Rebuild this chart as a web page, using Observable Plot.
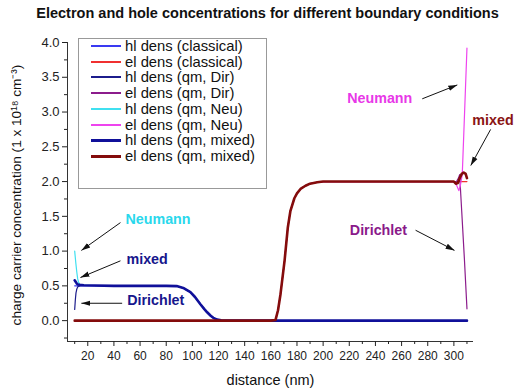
<!DOCTYPE html>
<html><head><meta charset="utf-8">
<script src="https://cdn.jsdelivr.net/npm/d3@7"></script>
<script src="https://cdn.jsdelivr.net/npm/@observablehq/plot@0.6"></script>
<style>
body{margin:0;background:#fff;font-family:"Liberation Sans",Arial,sans-serif;}
#wrap{position:relative;width:521px;height:391px;overflow:hidden;}
#title{height:26px;line-height:26px;font-size:14.5px;font-weight:bold;text-align:center;padding-left:14px;box-sizing:border-box;width:521px;color:#111;}
#legend{position:absolute;left:78px;top:38px;width:189px;height:151px;box-sizing:border-box;border:1px solid #999;background:#fff;}
.row{position:absolute;left:0;height:14px;display:flex;align-items:center;}
.sw{display:inline-block;width:30px;margin-left:12px;margin-right:4px;}
.lab{font-size:14.8px;line-height:14px;color:#111;white-space:nowrap;}
</style></head>
<body><div id="wrap"><div id="title">Electron and hole concentrations for different boundary conditions</div><div id="chart"></div><div id="legend"></div></div>
<script>
// ---- data (distance in nm, concentration in 1e18 cm^-3) ----
const hlClassicalX = [10, 40, 60, 80, 88, 93, 98.5, 102, 106, 109, 111.3, 114, 116, 119, 122, 126, 200, 310];
const hlClassicalY = [0.5, 0.5, 0.5, 0.5, 0.497, 0.47, 0.41, 0.34, 0.24, 0.17, 0.12, 0.07, 0.04, 0.015, 0.005, 0, 0, 0];

const elClassicalX = [10, 100, 160, 163.6, 165.5, 167.4, 170.5, 173, 175, 178, 180, 183, 186.5, 190, 195.5, 200, 250, 310];
const elClassicalY = [0, 0, 0, 0.01, 0.15, 0.38, 0.86, 1.34, 1.58, 1.76, 1.83, 1.9, 1.94, 1.97, 1.99, 2.0, 2.0, 2.0];

const hlDirX = [10, 10.5, 11, 11.7, 12.5, 14, 17, 25, 40, 60, 80, 88, 93, 98.5, 102, 106, 109, 111.3, 114, 116, 119, 122, 126, 200, 310];
const hlDirY = [0.16, 0.3, 0.4, 0.46, 0.49, 0.5, 0.505, 0.505, 0.5, 0.5, 0.5, 0.497, 0.47, 0.41, 0.34, 0.24, 0.17, 0.12, 0.07, 0.04, 0.015, 0.005, 0, 0, 0];

const elDirX = [10, 100, 160, 163.6, 165.5, 167.4, 170.5, 173, 175, 178, 180, 183, 186.5, 190, 195.5, 200, 250, 300, 302, 303.5, 304.4, 306, 308, 310];
const elDirY = [0, 0, 0, 0.01, 0.15, 0.38, 0.86, 1.34, 1.58, 1.76, 1.83, 1.9, 1.94, 1.97, 1.99, 2.0, 2.0, 2.0, 2.0, 2.05, 2.1, 1.57, 0.9, 0.17];

const hlNeuX = [10, 10.8, 11.6, 12.3, 13, 14, 17, 25, 40, 60, 80, 88, 93, 98.5, 102, 106, 109, 111.3, 114, 116, 119, 122, 126, 200, 310];
const hlNeuY = [1.0, 0.84, 0.7, 0.6, 0.55, 0.52, 0.51, 0.505, 0.5, 0.5, 0.5, 0.497, 0.47, 0.41, 0.34, 0.24, 0.17, 0.12, 0.07, 0.04, 0.015, 0.005, 0, 0, 0];

const elNeuX = [10, 100, 160, 163.6, 165.5, 167.4, 170.5, 173, 175, 178, 180, 183, 186.5, 190, 195.5, 200, 250, 300, 302, 303.8, 305, 306.4, 307.5, 308.8, 310];
const elNeuY = [0, 0, 0, 0.01, 0.15, 0.38, 0.86, 1.34, 1.58, 1.76, 1.83, 1.9, 1.94, 1.97, 1.99, 2.0, 2.0, 2.0, 1.95, 1.87, 1.95, 2.1, 2.65, 3.31, 3.92];

const hlMixedX = [10, 10.7, 11.5, 12.5, 14, 17, 25, 40, 60, 80, 88, 93, 98.5, 102, 106, 109, 111.3, 114, 116, 119, 122, 126, 200, 310];
const hlMixedY = [0.58, 0.56, 0.535, 0.52, 0.515, 0.51, 0.505, 0.5, 0.5, 0.5, 0.497, 0.47, 0.41, 0.34, 0.24, 0.17, 0.12, 0.07, 0.04, 0.015, 0.005, 0, 0, 0];

const elMixedX = [10, 100, 160, 163.6, 165.5, 167.4, 170.5, 173, 175, 178, 180, 183, 186.5, 190, 195.5, 200, 250, 300, 301.5, 303, 304.5, 306, 307.5, 309, 310];
const elMixedY = [0, 0, 0, 0.01, 0.15, 0.38, 0.86, 1.34, 1.58, 1.76, 1.83, 1.9, 1.94, 1.97, 1.99, 2.0, 2.0, 2.0, 1.97, 1.98, 2.05, 2.11, 2.13, 2.11, 2.05];

const seriesNames = ["hl dens (classical)", "el dens (classical)", "hl dens (qm, Dir)", "el dens (qm, Dir)",
  "hl dens (qm, Neu)", "el dens (qm, Neu)", "hl dens (qm, mixed)", "el dens (qm, mixed)"];
const seriesColors = ["#3a3af2", "#f03030", "#1c1c8c", "#8c1c8c", "#40e0f0", "#ee44ee", "#10109a", "#840c0c"];
const seriesWidths = [1.2, 1.2, 1.2, 1.2, 1.2, 1.2, 2.6, 2.6];
const seriesX = [hlClassicalX, elClassicalX, hlDirX, elDirX, hlNeuX, elNeuX, hlMixedX, elMixedX];
const seriesY = [hlClassicalY, elClassicalY, hlDirY, elDirY, hlNeuY, elNeuY, hlMixedY, elMixedY];

const xMajorTicks = [20, 40, 60, 80, 100, 120, 140, 160, 180, 200, 220, 240, 260, 280, 300];
const xMinorTicks = [10, 30, 50, 70, 90, 110, 130, 150, 170, 190, 210, 230, 250, 270, 290, 310];
const yMajorTicks = [0, 0.5, 1.0, 1.5, 2.0, 2.5, 3.0, 3.5, 4.0];
const yMinorTicks = [-0.25, 0.25, 0.75, 1.25, 1.75, 2.25, 2.75, 3.25, 3.75];

const annoLabels = ["Neumann", "mixed", "Dirichlet", "Neumann", "mixed", "Dirichlet"];
const annoX = [48.8, 49.6, 50.1, 218.4, 314.1, 220.4];
const annoY = [1.45, 0.886, 0.287, 3.19, 2.88, 1.30];
const annoColors = ["#2ad8ec", "#16168c", "#16168c", "#e838e8", "#8a1414", "#8a1a8a"];

const arrowX1 = [45, 45, 46.3, 275.8, 328.1, 270.7];
const arrowY1 = [1.41, 0.86, 0.25, 3.19, 2.75, 1.30];
const arrowX2 = [15.1, 14.4, 15.1, 302.6, 312.9, 300.5];
const arrowY2 = [1.01, 0.62, 0.25, 3.39, 2.23, 1.01];

const xLabel = "distance (nm)";
const yLabel = "charge carrier concentration (1 x 10\u00B9\u2078 cm\u207B\u00B3)";

// ---- chart ----
const lineMarks = seriesNames.map((name, i) =>
  Plot.line(seriesY[i], {x: seriesX[i], y: seriesY[i], stroke: seriesColors[i], strokeWidth: seriesWidths[i], strokeLinejoin: "round"}));

const plot = Plot.plot({
  width: 521, height: 365,
  marginLeft: 67, marginRight: 48, marginTop: 16, marginBottom: 50,
  x: {domain: [4.5, 315]},
  y: {domain: [-0.3, 4.0]},
  color: {type: "identity"},
  style: {fontFamily: "Liberation Sans, Arial, sans-serif", color: "#222", background: "#fff", overflow: "visible"},
  marks: [
    Plot.ruleX([4.5], {stroke: "#333"}),
    Plot.ruleY([-0.3], {stroke: "#333"}),
    Plot.axisX(xMajorTicks, {tickSize: 5, tickPadding: 5, fontSize: 12, label: null}),
    Plot.axisX(xMinorTicks, {tickSize: 3, fill: "none", label: null}),
    Plot.axisY(yMajorTicks, {tickSize: 5, tickPadding: 3, fontSize: 13, tickFormat: d3.format(".1f"), label: null}),
    Plot.axisY(yMinorTicks, {tickSize: 3, fill: "none", label: null}),
    Plot.text([xLabel], {frameAnchor: "bottom", dy: 43, fontSize: 14.5, text: d => d, fill: "#111"}),
    Plot.text([yLabel], {frameAnchor: "left", textAnchor: "middle", rotate: -90, dx: -51, dy: 3, fontSize: 13.6, text: d => d, fill: "#111"}),
    ...lineMarks,
    Plot.link(arrowX1, {x1: arrowX1, y1: arrowY1, x2: arrowX2, y2: arrowY2, stroke: "#111", strokeWidth: 1}),
    Plot.text(annoLabels, {x: annoX, y: annoY, text: d => d, fill: annoColors, fontWeight: "bold", fontSize: 14.3, textAnchor: "start"})
  ]
});

// filled arrowheads on the annotation links
const svg = d3.select(plot);
svg.append("defs").append("marker")
  .attr("id", "ah").attr("viewBox", "0 0 10 10").attr("refX", 10).attr("refY", 5)
  .attr("markerWidth", 9).attr("markerHeight", 9).attr("orient", "auto")
  .attr("markerUnits", "userSpaceOnUse")
  .append("path").attr("d", "M0,2 L10,5 L0,8 Z").attr("fill", "#111");
svg.selectAll('g[aria-label="link"] path').attr("marker-end", "url(#ah)");

document.getElementById("chart").appendChild(plot);

// ---- legend ----
const legend = document.getElementById("legend");
seriesNames.forEach((name, i) => {
  const row = document.createElement("div");
  row.className = "row";
  row.style.top = Math.round(0 + i * 15.7) + "px";
  const sw = document.createElement("span");
  sw.className = "sw";
  sw.style.height = (seriesWidths[i] > 2 ? 3 : 1.5) + "px";
  sw.style.background = seriesColors[i];
  const lab = document.createElement("span");
  lab.className = "lab";
  lab.textContent = name;
  row.appendChild(sw); row.appendChild(lab);
  legend.appendChild(row);
});
</script>
</body></html>
